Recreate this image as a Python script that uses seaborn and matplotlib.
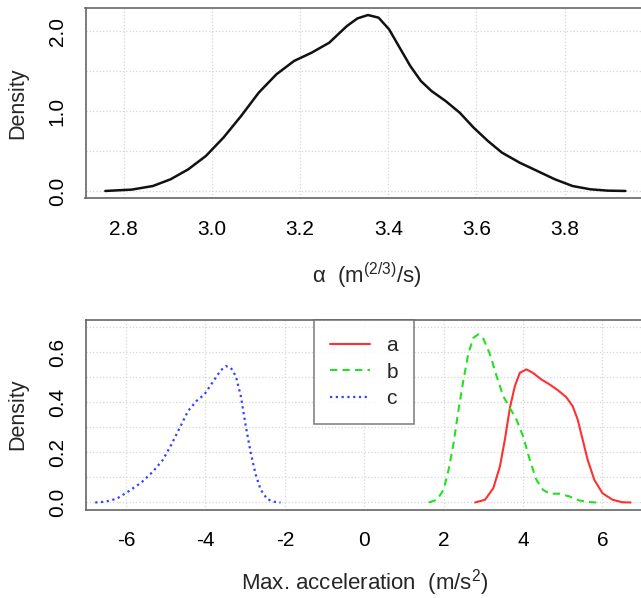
import numpy as np
import pandas as pd
import matplotlib
matplotlib.use("Agg")
import matplotlib.pyplot as plt
import seaborn as sns

# top panel: density of alpha
alpha_x = [2.758, 2.818, 2.866, 2.906, 2.946, 2.986, 3.026, 3.066, 3.106, 3.146,
           3.186, 3.226, 3.266, 3.306, 3.33, 3.354, 3.378, 3.402, 3.426, 3.45,
           3.474, 3.498, 3.53, 3.562, 3.594, 3.626, 3.658, 3.698, 3.738, 3.778,
           3.818, 3.858, 3.898, 3.938]
alpha_y = [0.0, 0.017, 0.062, 0.146, 0.27, 0.437, 0.667, 0.937, 1.229, 1.458,
           1.625, 1.729, 1.854, 2.062, 2.158, 2.2, 2.167, 2.02, 1.79, 1.562,
           1.375, 1.25, 1.125, 0.979, 0.79, 0.625, 0.479, 0.354, 0.25, 0.146,
           0.062, 0.021, 0.004, 0.0]

# bottom panel: densities of max. acceleration
a_x = [2.792, 3.042, 3.25, 3.417, 3.542, 3.667, 3.792, 3.917, 4.083, 4.25,
       4.458, 4.667, 4.875, 5.083, 5.25, 5.375, 5.5, 5.625, 5.792, 6.0,
       6.25, 6.5, 6.708]
a_y = [0.0, 0.011, 0.057, 0.144, 0.251, 0.377, 0.464, 0.517, 0.531, 0.517,
       0.491, 0.471, 0.448, 0.421, 0.384, 0.331, 0.251, 0.171, 0.091, 0.037,
       0.011, 0.001, 0.0]

b_x = [1.625, 1.833, 2.0, 2.125, 2.25, 2.375, 2.5, 2.625, 2.75, 2.875,
       3.0, 3.167, 3.333, 3.5, 3.667, 3.833, 4.0, 4.167, 4.333, 4.5,
       4.667, 4.917, 5.167, 5.417, 5.708, 5.875]
b_y = [0.0, 0.011, 0.051, 0.131, 0.237, 0.371, 0.491, 0.597, 0.657, 0.671,
       0.653, 0.591, 0.504, 0.424, 0.377, 0.331, 0.264, 0.171, 0.091, 0.051,
       0.035, 0.035, 0.024, 0.008, 0.001, 0.0]

c_x = [-6.775, -6.525, -6.233, -5.94, -5.61, -5.317, -5.067, -4.858, -4.65, -4.44,
       -4.233, -4.025, -3.775, -3.608, -3.483, -3.358, -3.233, -3.108, -2.983, -2.858,
       -2.733, -2.608, -2.442, -2.275, -2.108]
c_y = [0.0, 0.003, 0.015, 0.044, 0.08, 0.124, 0.171, 0.231, 0.297, 0.364,
       0.404, 0.431, 0.49, 0.528, 0.544, 0.537, 0.504, 0.424, 0.304, 0.197,
       0.111, 0.051, 0.013, 0.003, 0.0]

top_xticks = [2.8, 3.0, 3.2, 3.4, 3.6, 3.8]
top_yticks = [0.0, 0.5, 1.0, 1.5, 2.0]
top_ylabels = ["0.0", "", "1.0", "", "2.0"]
bot_xticks = [-6, -4, -2, 0, 2, 4, 6]
bot_yticks = [0.0, 0.1, 0.2, 0.3, 0.4, 0.5, 0.6, 0.7]
bot_ylabels = ["0.0", "", "0.2", "", "0.4", "", "0.6", ""]

sns.set_style("white")
plt.rcParams["font.family"] = ["Liberation Sans", "DejaVu Sans"]
plt.rcParams["mathtext.default"] = "regular"
plt.rcParams["lines.solid_joinstyle"] = "round"
plt.rcParams["lines.solid_capstyle"] = "round"

fig = plt.figure(figsize=(6.41, 5.98), dpi=100)
W, H = 641, 598
ax1 = fig.add_axes([85.5 / W, 1 - 198 / H, (647 - 85.5) / W, 190 / H])
ax2 = fig.add_axes([85.5 / W, 1 - 509.5 / H, (643 - 85.5) / W, 189.5 / H])

sns.lineplot(x=alpha_x, y=alpha_y, ax=ax1, color="#111111", lw=1.8, sort=False)

sns.lineplot(x=a_x, y=a_y, ax=ax2, color="#ff3030", lw=1.5, sort=False, label="a")
sns.lineplot(x=b_x, y=b_y, ax=ax2, color="#22e022", lw=1.5, sort=False, label="b")
sns.lineplot(x=c_x, y=c_y, ax=ax2, color="#3340ff", lw=1.6, sort=False, label="c")
ax2.lines[1].set_dashes((3.5, 2.5))
ax2.lines[2].set_linestyle((0, (1, 1.6)))

ax1.set_xlim(2.713, 3.987)
ax1.set_ylim(-0.088, 2.288)
ax2.set_xlim(-7.02, 7.02)
ax2.set_ylim(-0.028, 0.728)

for ax, xt, yt, yl in [(ax1, top_xticks, top_yticks, top_ylabels),
                       (ax2, bot_xticks, bot_yticks, bot_ylabels)]:
    ax.set_xticks(xt)
    ax.set_xticklabels([f"{v:g}" if ax is ax2 else f"{v:.1f}" for v in xt])
    ax.set_yticks(yt)
    ax.set_yticklabels(yl, rotation=90, va="center")
    ax.grid(True, color="#d6d6d6", linestyle=":", lw=0.9)
    ax.tick_params(axis="both", length=9.5, width=1.0, color="#666666",
                   labelsize=15, labelcolor="black")
    ax.tick_params(axis="x", pad=6)
    ax.tick_params(axis="y", pad=4)
    for s in ax.spines.values():
        s.set_color("#666666")
        s.set_linewidth(1.2)
    ax.set_ylabel("Density", fontsize=15.5, va="center")

ax1.set_xlabel("α  (m$^{(2/3)}$/s)", fontsize=16, va="center")
ax1.xaxis.set_label_coords(0.5, -0.41)
ax1.yaxis.set_label_coords(-0.121, 0.5)
ax2.set_xlabel("Max. acceleration  (m/s$^{2}$)", fontsize=16, va="center")
ax2.xaxis.set_label_coords(0.5, -0.388)
ax2.yaxis.set_label_coords(-0.122, 0.5)

leg = ax2.legend(loc="upper center", borderaxespad=0, fontsize=15, frameon=True,
                 fancybox=False, handlelength=1.9, handletextpad=0.8,
                 labelspacing=0.35, borderpad=0.78)
leg.get_frame().set_edgecolor("#666666")
leg.get_frame().set_linewidth(1.2)

fig.savefig("out.png", dpi=100)
